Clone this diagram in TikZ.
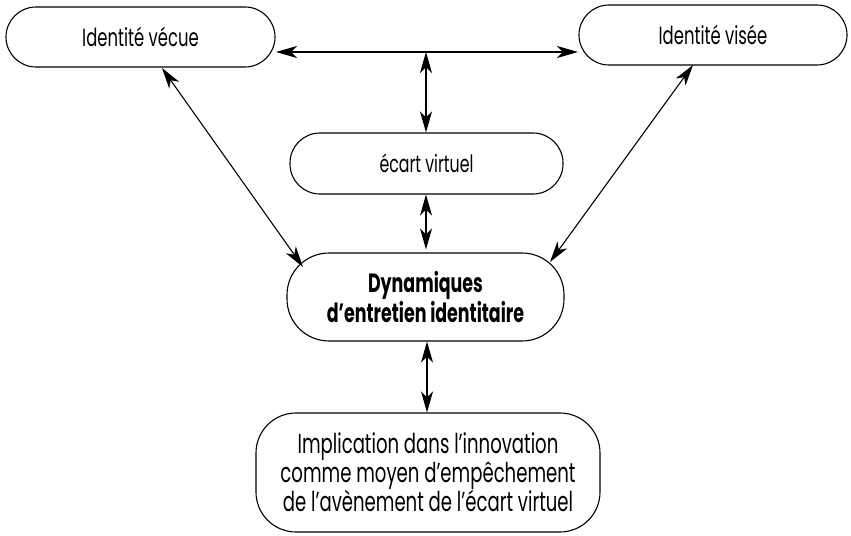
\documentclass[tikz,border=0pt]{standalone}
\usepackage{fontspec}
\setmainfont{Poppins}[FakeStretch=0.66]
\usetikzlibrary{arrows.meta}
\begin{document}
\begin{tikzpicture}[x=1bp,y=-1bp,
  box/.style={draw,line width=1.1bp,rounded corners=#1,inner sep=0pt,align=center,font=\fontsize{25}{29}\selectfont},
  box/.default=30bp,
  arr/.style={line width=1.1bp,{Stealth[length=21bp,width=12bp,inset=6bp]}-{Stealth[length=21bp,width=12bp,inset=6bp]}}]
\useasboundingbox (0,0) rectangle (851,536);
\node[box,minimum width=269bp,minimum height=60bp] (vecue) at (140.5,37) {Identité vécue};
\node[box,minimum width=268bp,minimum height=60bp] (visee) at (713,35) {Identité visée};
\node[box,minimum width=273bp,minimum height=61bp,font=\fontsize{24}{29}\selectfont] (ecart) at (426.5,163.5) {écart virtuel};
\node[box=42bp,minimum width=277bp,minimum height=88bp,font=\fontsize{26.5}{26}\selectfont\bfseries] (dyn) at (425.5,297) {Dynamiques\\d’entretien identitaire};
\node[box=40bp,minimum width=344bp,minimum height=119bp,font=\fontsize{27.5}{29}\selectfont] (impl) at (428,472.5) {Implication dans l’innovation\\comme moyen d’empêchement\\de l’avènement de l’écart virtuel};
\coordinate (h1) at (276,52);
\coordinate (h2) at (578,52);
\coordinate (t) at (426,52);
\coordinate (a1) at (162,68);
\coordinate (a2) at (303,267);
\coordinate (b1) at (693,65);
\coordinate (b2) at (550,262);
\draw[arr] (h1) -- (h2);
\draw[arr] (t) -- (ecart.north -| t);
\draw[arr] (ecart.south -| t) -- ([yshift=3bp]dyn.north -| t);
\draw[arr] ([xshift=1.5bp]dyn.south) -- ([xshift=-1bp]impl.north);
\draw[arr] (a1) -- (a2);
\draw[arr] (b1) -- (b2);
\end{tikzpicture}
\end{document}
